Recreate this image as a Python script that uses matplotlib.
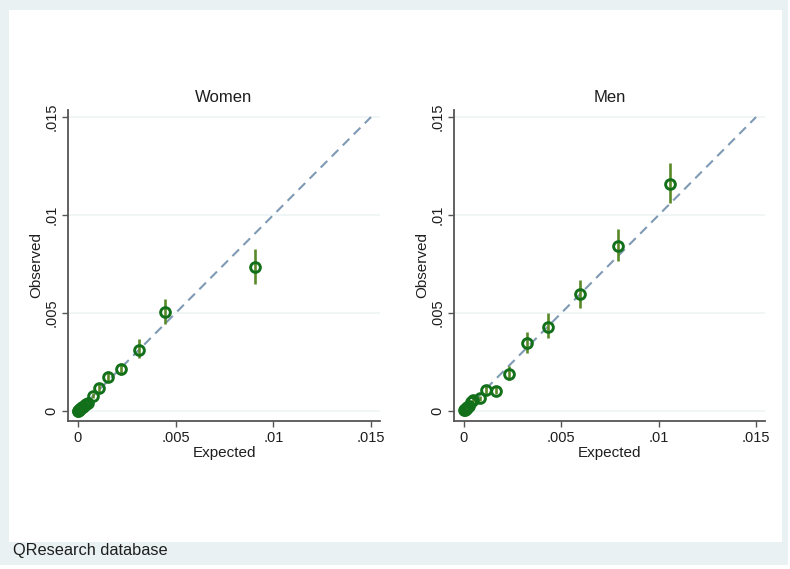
import matplotlib
matplotlib.use("Agg")
import matplotlib.pyplot as plt
from matplotlib.patches import Rectangle

plt.rcParams['font.family'] = ['Liberation Sans', 'DejaVu Sans']

# ---- data ----
tick_vals = [0, 0.005, 0.01, 0.015]
tick_labels = ['0', '.005', '.01', '.015']

women_exp = [0.00001, 0.00002, 0.00004, 0.00006, 0.00009, 0.00012, 0.00016, 0.00021, 0.00027, 0.00034,
             0.00043, 0.00053, 0.00078, 0.00109, 0.00152, 0.00222, 0.00312, 0.00445, 0.00906]
women_obs = [0.00001, 0.00002, 0.00004, 0.00006, 0.00008, 0.00011, 0.00014, 0.00018, 0.00023, 0.00029,
             0.00035, 0.00042, 0.00078, 0.00116, 0.00175, 0.00213, 0.00311, 0.00505, 0.00735]
women_lo = [0.0, 0.00001, 0.00002, 0.00004, 0.00005, 0.00008, 0.00010, 0.00014, 0.00018, 0.00023,
            0.00028, 0.00034, 0.00065, 0.00098, 0.00150, 0.00183, 0.00268, 0.00444, 0.00648]
women_hi = [0.00003, 0.00004, 0.00006, 0.00008, 0.00011, 0.00014, 0.00018, 0.00023, 0.00028, 0.00035,
            0.00042, 0.00050, 0.00092, 0.00136, 0.00202, 0.00246, 0.00365, 0.00571, 0.00827]

men_exp = [0.00002, 0.00004, 0.00007, 0.00010, 0.00014, 0.00018, 0.00024, 0.00036, 0.00047, 0.00085,
           0.00115, 0.00164, 0.00231, 0.00322, 0.00432, 0.00595, 0.00793, 0.01059]
men_obs = [0.00003, 0.00005, 0.00010, 0.00008, 0.00015, 0.00020, 0.00028, 0.00045, 0.00058, 0.00065,
           0.00105, 0.00103, 0.00187, 0.00347, 0.00430, 0.00595, 0.00843, 0.01158]
men_lo = [0.00001, 0.00003, 0.00007, 0.00005, 0.00011, 0.00015, 0.00021, 0.00036, 0.00047, 0.00053,
          0.00088, 0.00085, 0.00160, 0.00297, 0.00374, 0.00527, 0.00765, 0.01061]
men_hi = [0.00005, 0.00008, 0.00014, 0.00011, 0.00020, 0.00026, 0.00036, 0.00055, 0.00070, 0.00078,
          0.00130, 0.00122, 0.00230, 0.00405, 0.00500, 0.00668, 0.00930, 0.01265]

panels = [
    ("Women", women_exp, women_obs, women_lo, women_hi, [0.0861, 0.2601, 0.3949, 0.5466]),
    ("Men", men_exp, men_obs, men_lo, men_hi, [0.5747, 0.2601, 0.3937, 0.5466]),
]

band = '#e9f1f3'
txt = '#1e1e1e'
fig = plt.figure(figsize=(7.9, 5.69), dpi=100)
fig.patch.set_facecolor('white')
W, H = 790, 569
# light outer frame + white plot region
fig.patches.append(Rectangle((0, (H - 565) / H), 788 / W, 565 / H, transform=fig.transFigure,
                             facecolor=band, edgecolor='none', zorder=-3))
fig.patches.append(Rectangle((9 / W, (H - 542) / H), (782 - 9) / W, (542 - 10) / H, transform=fig.transFigure,
                             facecolor='white', edgecolor='none', zorder=-2))

for title, ex, ob, lo, hi, pos in panels:
    ax = fig.add_axes(pos)
    ax.patch.set_alpha(0)
    ax.set_xlim(-0.00051, 0.01546)
    ax.set_ylim(-0.00051, 0.01536)
    for v in tick_vals:
        ax.axhline(v, color='#eef4f5', lw=1.2, zorder=0)
    ax.plot([0, 0.015], [0, 0.015], color='#7f9ab4', lw=1.5, dashes=(4.5, 3), zorder=1)
    ax.vlines(ex, lo, hi, color='#5a8a28', lw=1.9, zorder=2)
    ax.plot(ex, ob, 'o', ms=7, mfc='none', mec='#12701a', mew=2.1, zorder=3)

    ax.set_xticks(tick_vals)
    ax.set_xticklabels(tick_labels)
    ax.set_yticks(tick_vals)
    ax.set_yticklabels(tick_labels, rotation=90, va='center')
    ax.tick_params(direction='out', length=4, width=1, color='#555555', labelsize=10.5,
                   labelcolor=txt, pad=3)
    for s in ['top', 'right']:
        ax.spines[s].set_visible(False)
    for s in ['left', 'bottom']:
        ax.spines[s].set_color('#555555')
        ax.spines[s].set_linewidth(1.3)
    ax.set_title(title, fontsize=12, color=txt, pad=6)
    ax.set_xlabel('Expected', fontsize=11, color=txt, labelpad=1)
    ax.set_ylabel('Observed', fontsize=11, color=txt, labelpad=1)

fig.text(13 / W, 1 - 550 / H, 'QResearch database', fontsize=11.8, color=txt, va='center', ha='left')

fig.savefig('out.png', dpi=100)
